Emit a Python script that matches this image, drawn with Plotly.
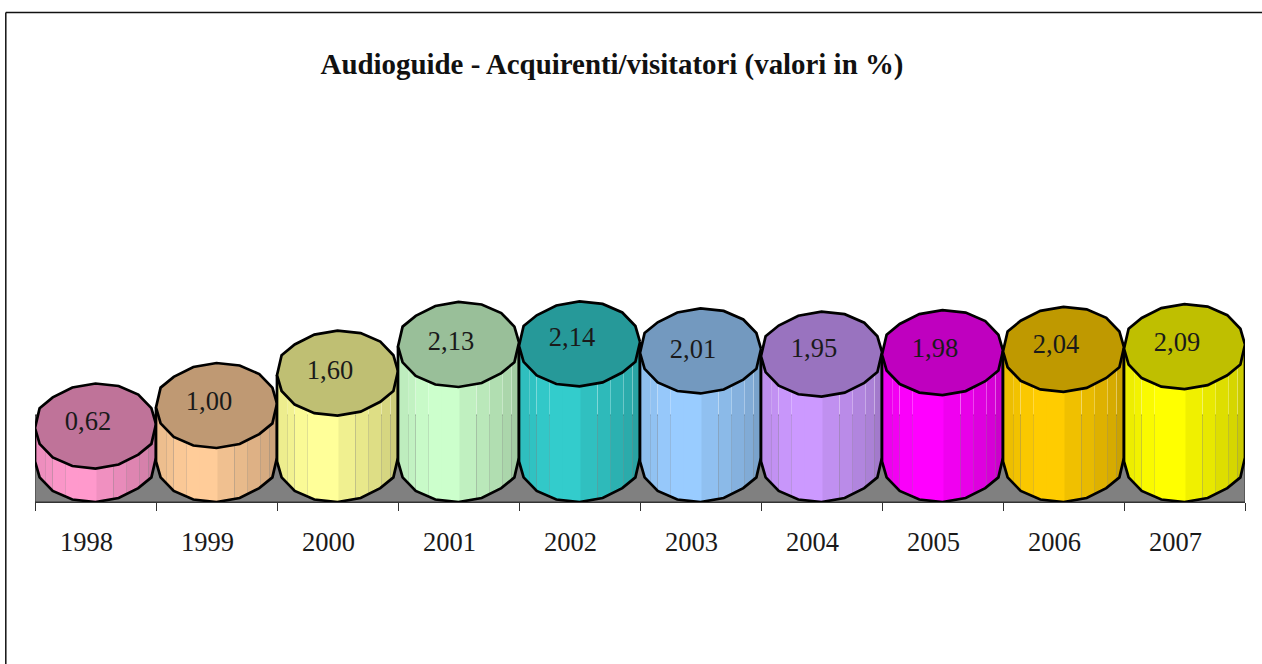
import numpy as np
import plotly.graph_objects as go

# ---- data ----
years = ["1998", "1999", "2000", "2001", "2002", "2003", "2004", "2005", "2006", "2007"]
values = [0.62, 1.00, 1.60, 2.13, 2.14, 2.01, 1.95, 1.98, 2.04, 2.09]
side_colors = ["#FF99CC", "#FFCC99", "#FFFF99", "#CCFFCC", "#33CCCC",
               "#99CCFF", "#CC99FF", "#FF00FF", "#FFCC00", "#FFFF00"]
label_nudge_px = [2, 2, 4, 3, 0, 5, 1, 2, 2, 2]   # labels sit slightly unevenly in the source
title_text = "Audioguide - Acquirenti/visitatori (valori in %)"

# ---- canvas geometry (pixels) ----
W, H = 1262, 664
PL, PR, PT, PB = 35, 1245, 100, 502        # plot area
ZERO_PX = 459.5                            # pixel row of value 0 (centre of base ellipse)
UNIT_PX = 54.0                             # pixels per 1 %
CAT_PX = (PR - PL) / len(years)
RY = 42.5 / UNIT_PX                        # ellipse half height, value units
TILT = 2.0 / UNIT_PX                       # ellipse skew, value units
RX = 0.5
y_min = (ZERO_PX - PB) / UNIT_PX
y_max = (ZERO_PX - PT) / UNIT_PX
wall_top = (ZERO_PX - 415) / UNIT_PX
OUTLINE = 2.7

# the 16-sided "ellipse" used by the 3-D column (slightly squarish, as drawn by the source)
theta = np.arange(16) * 2 * np.pi / 16
ox = RX * np.cos(theta)
sin_prof = np.sin(theta)
cos_prof = np.cos(theta)
near_flat = np.isclose(np.abs(sin_prof), np.sin(np.pi / 8))
sin_prof[near_flat] *= 1.1
cos_prof[near_flat] = 0
oy = RY * sin_prof + TILT * cos_prof
# lower half, left to right (theta from 180 to 360)
low_x = np.append(ox[8:], ox[0])
low_y = np.append(oy[8:], oy[0])

strip_edges = np.array([0, .09, .147, .25, .36, .508, .65, .76, .867, .94, 1.0]) - 0.5
strip_shade = [.93, .95, .98, 1.0, 1.0, .94, .91, .87, .84, .80]
strip_seam = [.12, .25, .25, 0, 0, .25, .25, .25, .25, 0]   # hairline gap right of each facet, px


def shade(col, f):
    r, g, b = (int(col[i:i + 2], 16) for i in (1, 3, 5))
    return f"rgb({round(r * f)},{round(g * f)},{round(b * f)})"


fig = go.Figure()

# grey back wall
fig.add_trace(go.Scatter(x=[0, 0, len(years), len(years), 0],
                         y=[y_min, wall_top, wall_top, y_min, y_min],
                         mode="lines", fill="toself", fillcolor="#808080",
                         line=dict(color="#333333", width=1), hoverinfo="skip"))

for i, (v, col) in enumerate(zip(values, side_colors)):
    cx = i + 0.5
    for k, f in enumerate(strip_shade):
        a, b = strip_edges[k], strip_edges[k + 1] - strip_seam[k] / CAT_PX
        # facets with no seam run slightly under their neighbour
        if strip_seam[k] == 0 and k < len(strip_shade) - 1:
            b = strip_edges[k + 1] + 0.6 / CAT_PX
        inner = low_x[(low_x > a) & (low_x < b)]
        xs = np.concatenate(([a], inner, [b]))
        ys = np.interp(xs, low_x, low_y)
        px = np.concatenate((xs, xs[::-1], [xs[0]])) + cx
        py = np.concatenate((ys, (ys + v)[::-1], [ys[0]]))
        fig.add_trace(go.Scatter(x=px, y=py, mode="lines", fill="toself",
                                 fillcolor=shade(col, f), line=dict(width=0),
                                 hoverinfo="skip"))
    # silhouette of the side
    sx = np.concatenate(([low_x[0]], low_x, [low_x[-1]])) + cx
    sy = np.concatenate(([low_y[0] + v], low_y, [low_y[-1] + v]))
    fig.add_trace(go.Scatter(x=sx, y=sy, mode="lines",
                             line=dict(color="black", width=OUTLINE), hoverinfo="skip"))
    # top cap
    fig.add_trace(go.Scatter(x=np.append(ox, ox[0]) + cx, y=np.append(oy, oy[0]) + v,
                             mode="lines", fill="toself", fillcolor=shade(col, .75),
                             line=dict(color="black", width=OUTLINE), hoverinfo="skip"))

# data labels
fig.add_trace(go.Scatter(x=[i + 0.5 - 7.5 / CAT_PX for i in range(len(values))],
                         y=[v + (4.5 - n) / UNIT_PX for v, n in zip(values, label_nudge_px)],
                         mode="text",
                         text=[f"{v:.2f}".replace(".", ",") for v in values],
                         textposition="middle center",
                         textfont=dict(family="Liberation Serif", size=26.5, color="#1a1a1a"),
                         hoverinfo="skip"))

# category labels
for i, yr in enumerate(years):
    fig.add_annotation(x=i + 0.5 - 9 / CAT_PX, xref="x",
                       y=1 - (542 - PT) / (PB - PT), yref="paper",
                       text=yr, showarrow=False, xanchor="center", yanchor="middle",
                       font=dict(family="Liberation Serif", size=26.5, color="#1a1a1a"))

# outer chart frame (top and left only are on the canvas)
fx = lambda p: (p - PL) / (PR - PL)
fy = lambda p: 1 - (p - PT) / (PB - PT)
fig.add_shape(type="line", xref="paper", yref="paper", x0=fx(5.8), x1=fx(W), y0=fy(12.5), y1=fy(12.5),
              line=dict(color="#111111", width=1.5))
fig.add_shape(type="line", xref="paper", yref="paper", x0=fx(5.8), x1=fx(5.8), y0=fy(12.5), y1=fy(H),
              line=dict(color="#111111", width=1.5))

fig.update_layout(
    width=W, height=H,
    margin=dict(l=PL, r=W - PR, t=PT, b=H - PB, pad=0),
    paper_bgcolor="white", plot_bgcolor="white",
    showlegend=False, hovermode=False,
    title=dict(text=f"<b>{title_text}</b>", x=612 / W, xanchor="center",
               y=1 - 64 / H, yanchor="middle",
               font=dict(family="Liberation Serif", size=28.9, color="#111111")),
    xaxis=dict(range=[0, len(years)], tickmode="array",
               tickvals=list(range(len(years) + 1)), ticktext=[""] * (len(years) + 1),
               ticks="outside", ticklen=8, tickwidth=1, tickcolor="#333333",
               showline=True, linecolor="#333333", linewidth=1,
               showgrid=False, zeroline=False, fixedrange=True),
    yaxis=dict(range=[y_min, y_max], visible=False, fixedrange=True),
)

fig.write_html("out.html", config={"displayModeBar": False},
               post_script="document.body.style.margin='0';document.body.style.overflow='hidden';")
